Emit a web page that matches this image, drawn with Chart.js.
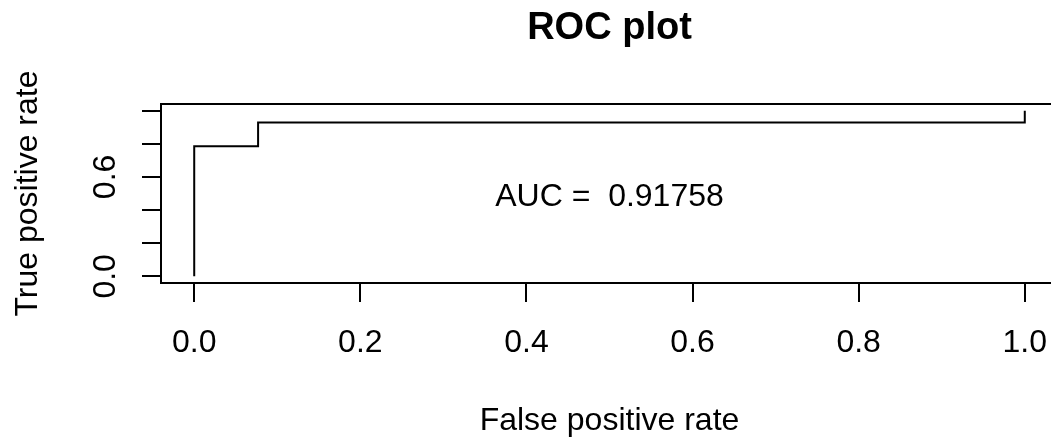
<!DOCTYPE html>
<html>
<head>
<meta charset="utf-8">
<script src="https://cdn.jsdelivr.net/npm/chart.js@4/dist/chart.umd.min.js"></script>
<style>
  html, body { margin: 0; padding: 0; overflow: hidden; background: #ffffff; }
  #wrap { width: 1070px; height: 439px; }
</style>
</head>
<body>
<div id="wrap"><canvas id="roc" width="1070" height="439"></canvas></div>
<script>
// ROC curve: false positive rate vs true positive rate
const fpr = [0, 0, 0.0769, 0.0769, 1, 1];
const tpr = [0, 0.7857, 0.7857, 0.9286, 0.9286, 1];
const aucValue = 0.91758;

const xTicks = [0, 0.2, 0.4, 0.6, 0.8, 1.0];
const xTickLabels = ['0.0', '0.2', '0.4', '0.6', '0.8', '1.0'];
const yTicks = [0, 0.2, 0.4, 0.6, 0.8, 1.0];
const yTickLabels = ['0.0', '', '', '0.6', '', ''];

const chartTitle = 'ROC plot';
const xTitle = 'False positive rate';
const yTitle = 'True positive rate';

const FONT = '"Liberation Sans", Arial, Helvetica, sans-serif';
const TEXT_SIZE = 32;

// Box, title, rotated y labels, axis titles and the AUC annotation
const decorations = {
  id: 'decorations',
  afterDraw(chart) {
    const { ctx, chartArea: a, scales } = chart;
    const xs = scales.x, ys = scales.y;
    ctx.save();
    ctx.strokeStyle = '#000';
    ctx.lineWidth = 2;
    ctx.strokeRect(a.left, a.top, a.right - a.left, a.bottom - a.top);

    ctx.fillStyle = '#000';
    const midX = (a.left + a.right) / 2;
    const midY = (a.top + a.bottom) / 2;

    // main title
    ctx.font = 'bold 38px ' + FONT;
    ctx.textAlign = 'center';
    ctx.textBaseline = 'alphabetic';
    ctx.fillText(chartTitle, midX, 39);

    // x axis title
    ctx.font = TEXT_SIZE + 'px ' + FONT;
    ctx.fillText(xTitle, midX, 430);

    // y tick labels, drawn parallel to the axis
    yTicks.forEach((v, i) => {
      const lbl = yTickLabels[i];
      if (!lbl) return;
      ctx.save();
      ctx.translate(115, ys.getPixelForValue(v));
      ctx.rotate(-Math.PI / 2);
      ctx.fillText(lbl, 0, 0);
      ctx.restore();
    });

    // y axis title
    ctx.save();
    ctx.translate(37, midY);
    ctx.rotate(-Math.PI / 2);
    ctx.fillText(yTitle, 0, 0);
    ctx.restore();

    // AUC annotation centred at (0.5, 0.5)
    const px = xs.getPixelForValue(0.5);
    const py = ys.getPixelForValue(0.5);
    ctx.fillText('AUC =  ' + aucValue, px, py + TEXT_SIZE * 0.38);
    ctx.restore();
  }
};

new Chart(document.getElementById('roc'), {
  type: 'line',
  data: {
    datasets: [{
      data: fpr.map((x, i) => ({ x: x, y: tpr[i] })),
      borderColor: '#000',
      borderWidth: 2,
      pointRadius: 0,
      tension: 0,
      fill: false
    }]
  },
  options: {
    responsive: false,
    devicePixelRatio: 1,
    animation: false,
    layout: { padding: { left: 0, right: 12, top: 104, bottom: 0 } },
    plugins: { legend: { display: false }, title: { display: false }, tooltip: { enabled: false } },
    scales: {
      x: {
        type: 'linear',
        min: -0.04,
        max: 1.04,
        afterBuildTicks(scale) { scale.ticks = xTicks.map(v => ({ value: v })); },
        afterFit(scale) { scale.height = 439 - 283; },
        ticks: {
          autoSkip: false,
          maxRotation: 0,
          minRotation: 0,
          padding: 22,
          color: '#000',
          font: { family: FONT, size: TEXT_SIZE },
          callback(value, index) { return xTickLabels[index]; }
        },
        grid: { drawOnChartArea: false, drawTicks: true, tickLength: 19, color: '#000', lineWidth: 2 },
        border: { display: false }
      },
      y: {
        type: 'linear',
        min: -0.04,
        max: 1.04,
        afterBuildTicks(scale) { scale.ticks = yTicks.map(v => ({ value: v })); },
        afterFit(scale) { scale.width = 161; },
        ticks: { display: false },
        grid: { drawOnChartArea: false, drawTicks: true, tickLength: 19, color: '#000', lineWidth: 2 },
        border: { display: false }
      }
    }
  },
  plugins: [decorations]
});
</script>
</body>
</html>
